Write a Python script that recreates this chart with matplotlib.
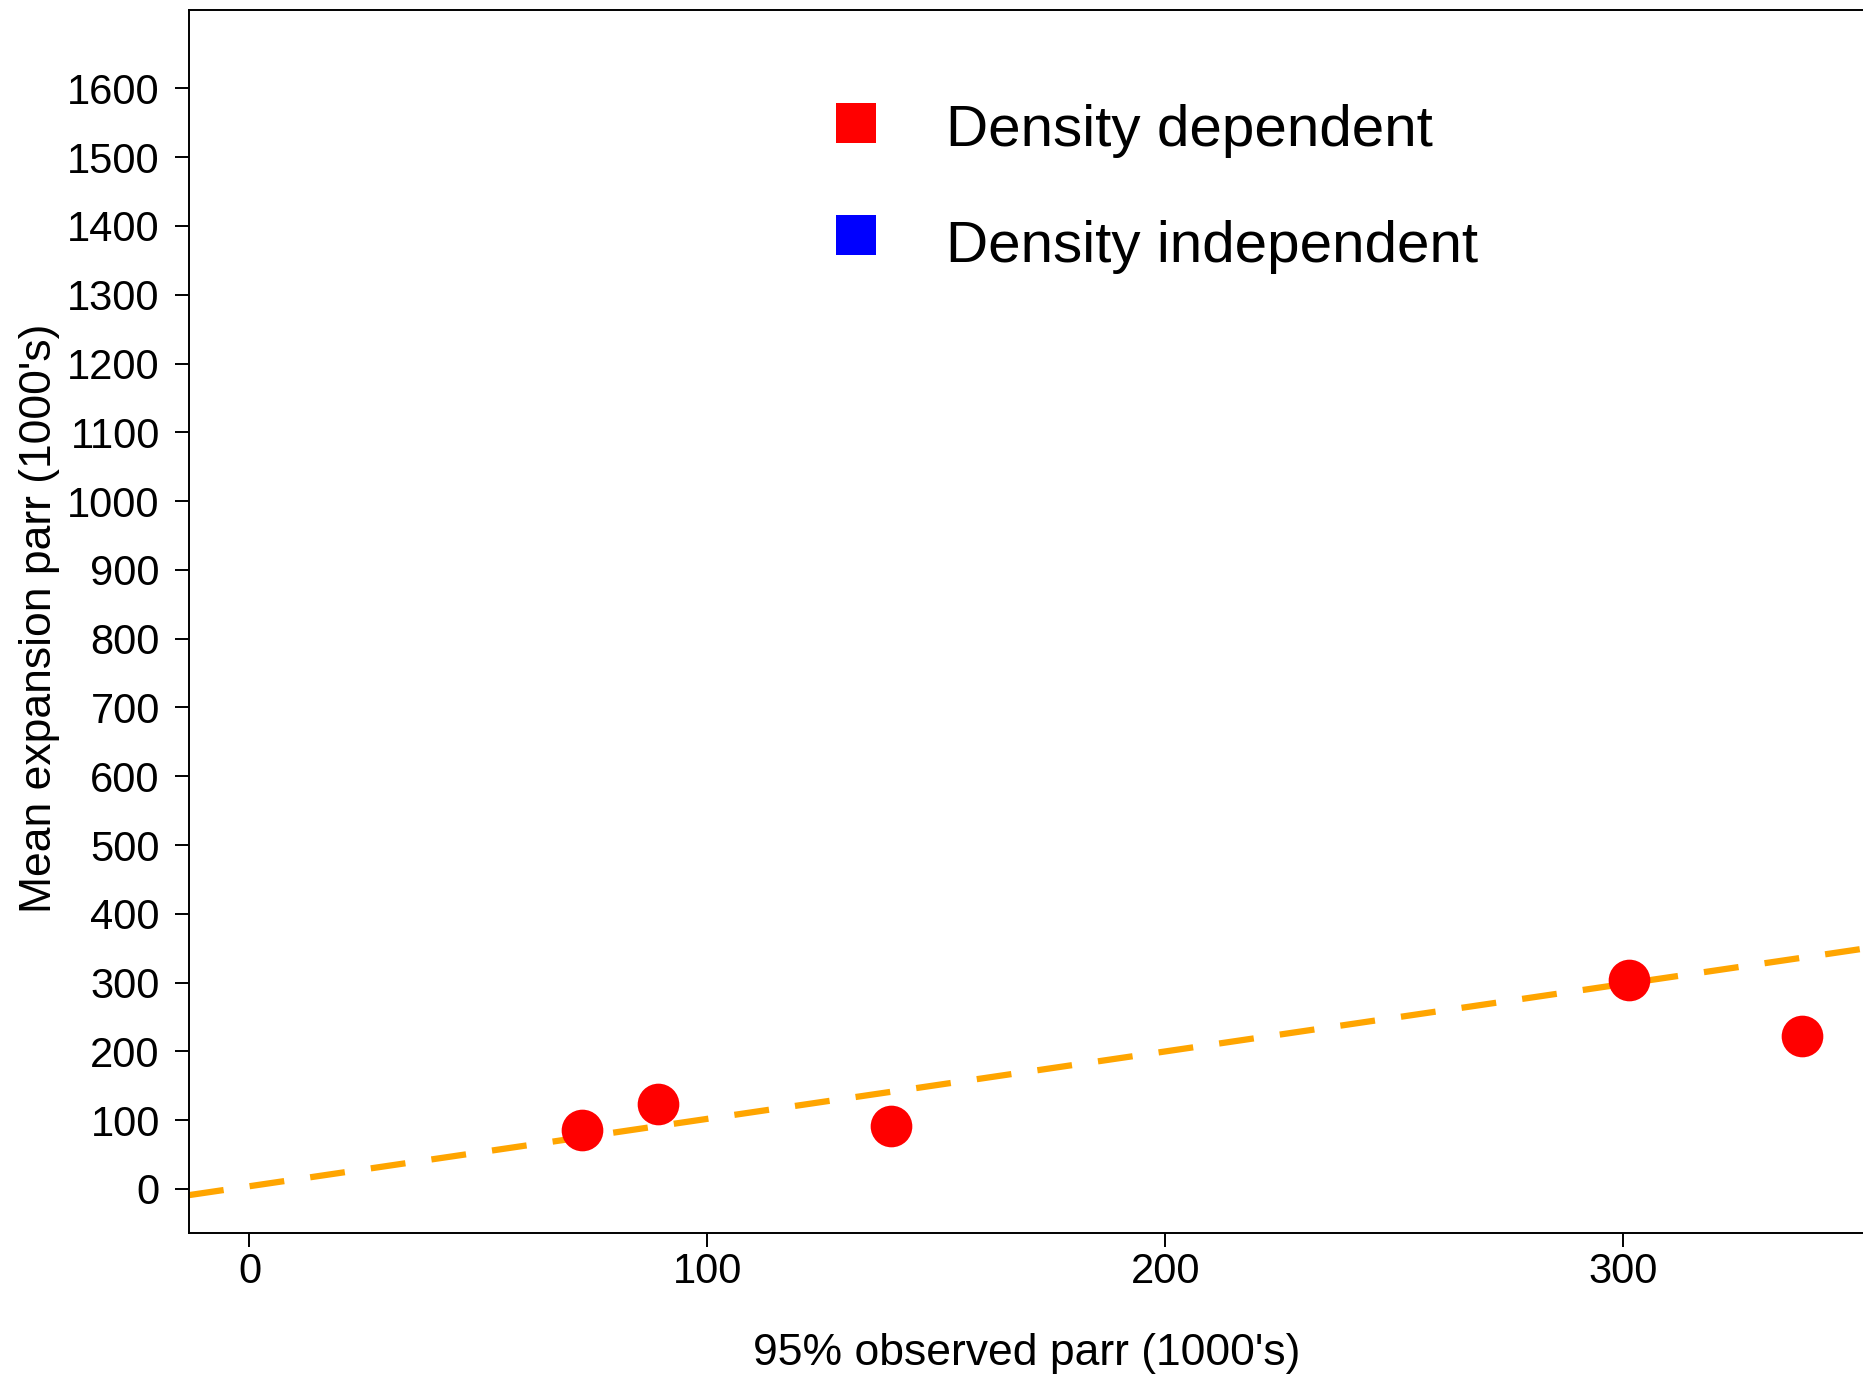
import matplotlib
matplotlib.use("Agg")
import matplotlib.pyplot as plt

# valores (milhares)
obs_parr = [72.6, 89.2, 140.0, 301.1, 339.0]
exp_parr = [86, 124, 91, 304, 222]

# linha tracejada (intercepto, inclinação)
linha_intercepto = 4.0
linha_inclinacao = 0.98

legenda_nomes = ["Density dependent", "Density independent"]
legenda_cores = ["#FF0000", "#0000FF"]

yticks = list(range(0, 1700, 100))
xticks = [0, 100, 200, 300]

plt.rcParams["font.family"] = ["Liberation Sans", "DejaVu Sans"]

fig = plt.figure(figsize=(18.63, 13.75), dpi=100)
ax = fig.add_axes([189 / 1863, 1 - 1233 / 1375, (1863 - 189) / 1863, (1233 - 10) / 1375])

ax.set_xlim(-13.2, 352.3)
ax.set_ylim(-64, 1714)

# linha tracejada laranja
ax.axline((0, linha_intercepto), slope=linha_inclinacao, color="#FFA500",
          linewidth=4.5, dashes=(5.6, 4.2), dash_capstyle="butt", zorder=2)

# pontos
ax.plot(obs_parr, exp_parr, "o", color="#FF0000", markersize=30,
        markeredgewidth=0, zorder=3)

# legenda manual (quadrado + texto)
y_quadrado = [0.9076, 0.816]
y_texto = [0.9011, 0.8062]
for nome, cor, yq, yt in zip(legenda_nomes, legenda_cores, y_quadrado, y_texto):
    ax.plot([0.3984], [yq], "s", color=cor, markersize=29, markeredgewidth=0,
            transform=ax.transAxes, clip_on=False)
    ax.text(0.4522, yt, nome, fontsize=42, va="center", ha="left",
            transform=ax.transAxes)

ax.set_xticks(xticks)
ax.set_yticks(yticks)
ax.tick_params(axis="both", labelsize=30, length=10, width=1.4, color="black")
ax.tick_params(axis="y", pad=11)
ax.tick_params(axis="x", pad=4)

for s in ["left", "bottom", "top"]:
    ax.spines[s].set_linewidth(1.4)
ax.spines["right"].set_visible(False)

ax.set_xlabel("95% observed parr (1000's)", fontsize=32)
ax.set_ylabel("Mean expansion parr (1000's)", fontsize=32)
ax.xaxis.set_label_coords((1027 - 189) / 1674, 1 - (1333 - 10) / 1223)
ax.yaxis.set_label_coords((60 - 189) / 1674, 1 - (618 - 10) / 1223)

plt.savefig("out.png", dpi=100)
